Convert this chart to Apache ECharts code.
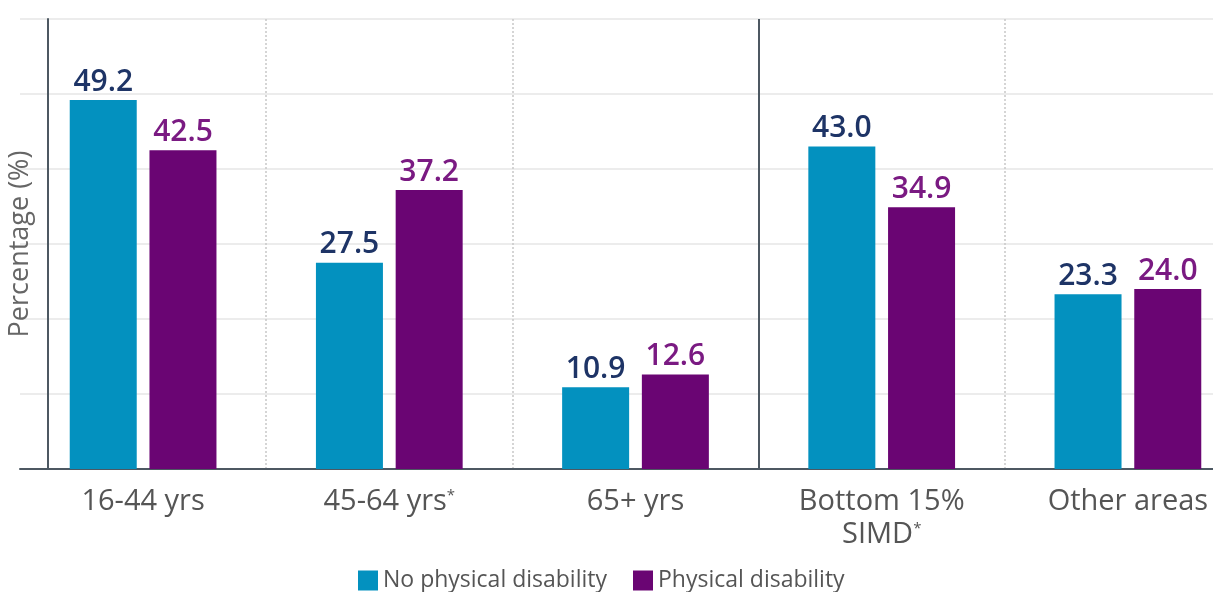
<!DOCTYPE html>
<html>
<head>
<meta charset="utf-8">
<script src="https://cdn.jsdelivr.net/npm/echarts@6/dist/echarts.min.js"></script>
<style>
  html, body { margin: 0; padding: 0; background: #fff; }
  #chart { width: 1213px; height: 592px; }
</style>
</head>
<body>
<div id="chart"></div>
<script>
// Groups along the x axis (age bands, then deprivation areas)
const categories = ['16-44 yrs', '45-64 yrs{sup|*}', '65+ yrs', 'Bottom 15%\nSIMD{sup|*}', 'Other areas'];
const seriesNames = ['No physical disability', 'Physical disability'];
const noDisability = [49.2, 27.5, 10.9, 43.0, 23.3];
const disability = [42.5, 37.2, 12.6, 34.9, 24.0];
// Boundary between the age groups and the SIMD groups (in category units)
const groupDivider = [3];

const FONT = '"Open Sans", "Noto Sans", sans-serif';
const AXIS_DARK = '#4d5862';

const chart = echarts.init(document.getElementById('chart'), null, { renderer: 'canvas' });

chart.setOption({
  animation: false,
  textStyle: { fontFamily: FONT },
  grid: { left: 20, right: -38, top: 19, bottom: 123, containLabel: false, outerBoundsMode: 'none' },
  legend: {
    data: seriesNames,
    left: 353,
    top: 564,
    icon: 'rect',
    itemWidth: 20,
    itemHeight: 20,
    itemGap: 26,
    textStyle: { fontSize: 23, color: '#555', fontFamily: FONT }
  },
  xAxis: [
    {
      type: 'category',
      data: categories,
      axisTick: { show: false },
      axisLine: { lineStyle: { color: AXIS_DARK, width: 2 } },
      axisLabel: {
        fontSize: 29,
        color: '#555',
        margin: 16,
        lineHeight: 33,
        interval: 0,
        fontFamily: FONT,
        rich: {
          sup: { fontSize: 15, color: '#555', padding: [0, 0, 12, 0], fontFamily: FONT }
        }
      },
      splitLine: {
        show: true,
        interval: function (idx) { return idx !== 0; },
        lineStyle: { color: '#c8c8c8', type: [2, 2], width: 1.5 }
      }
    },
    {
      type: 'value',
      min: 0,
      max: categories.length,
      show: false
    }
  ],
  yAxis: {
    type: 'value',
    min: 0,
    max: 60,
    interval: 10,
    offset: -28,
    axisLabel: { show: false },
    axisTick: { show: false },
    axisLine: { show: true, lineStyle: { color: AXIS_DARK, width: 2 } },
    splitLine: { lineStyle: { color: '#ececec', width: 2 } },
    name: 'Percentage (%)',
    nameLocation: 'middle',
    nameGap: 14,
    nameTextStyle: { fontSize: 27, color: '#666', fontFamily: FONT }
  },
  series: [
    {
      name: seriesNames[0],
      type: 'bar',
      data: noDisability,
      barWidth: 67,
      barGap: '19%',
      itemStyle: { color: '#0391bf' },
      label: {
        show: true,
        position: 'top',
        distance: 3,
        fontSize: 30,
        fontWeight: 600,
        color: '#1e3466',
        fontFamily: FONT,
        formatter: (p) => p.value.toFixed(1)
      }
    },
    {
      name: seriesNames[1],
      type: 'bar',
      data: disability,
      barWidth: 67,
      barGap: '19%',
      itemStyle: { color: '#6a0573' },
      label: {
        show: true,
        position: 'top',
        distance: 3,
        fontSize: 30,
        fontWeight: 600,
        color: '#7a1a82',
        fontFamily: FONT,
        formatter: (p) => p.value.toFixed(1)
      }
    },
    {
      name: 'divider',
      type: 'line',
      xAxisIndex: 1,
      data: [],
      markLine: {
        silent: true,
        symbol: 'none',
        label: { show: false },
        lineStyle: { color: AXIS_DARK, type: 'solid', width: 2 },
        data: groupDivider.map((v) => ({ xAxis: v }))
      }
    }
  ]
});
</script>
</body>
</html>
